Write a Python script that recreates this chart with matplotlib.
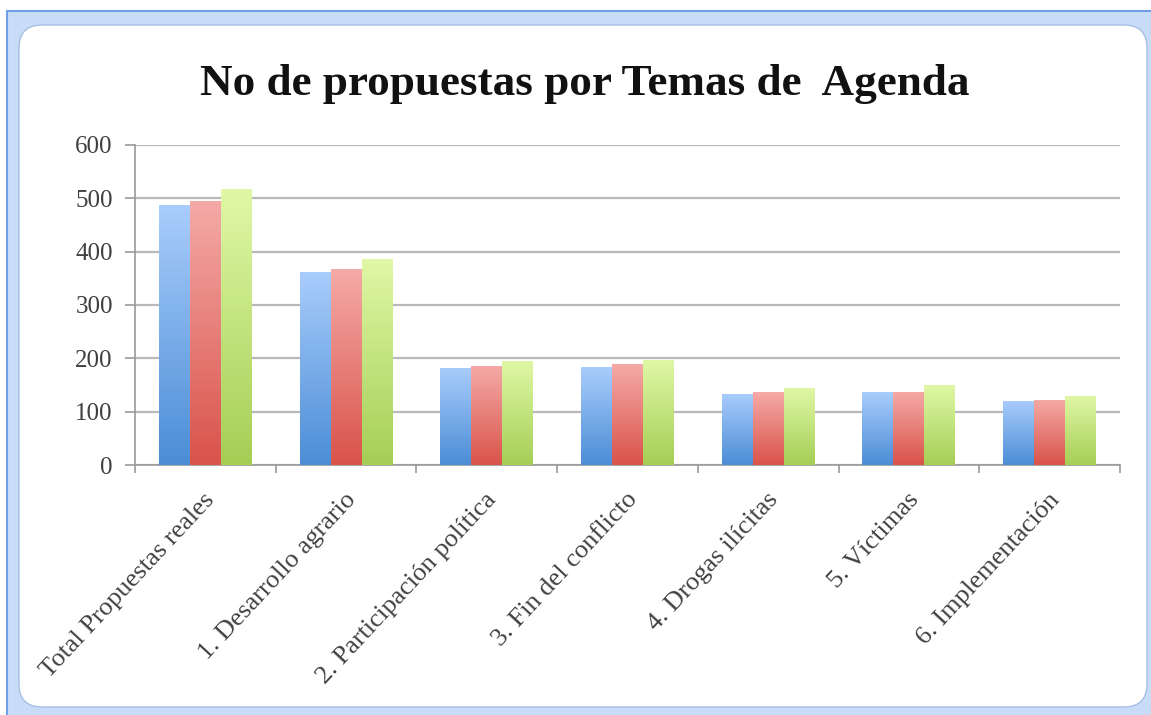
import numpy as np
import matplotlib
matplotlib.use("Agg")
import matplotlib.pyplot as plt
import matplotlib.transforms as mtransforms
from matplotlib.colors import LinearSegmentedColormap
from matplotlib.patches import FancyBboxPatch

categories = ["Total Propuestas reales", "1. Desarrollo agrario", "2. Participación política",
              "3. Fin del conflicto", "4. Drogas ilícitas", "5. Víctimas", "6. Implementación"]
serie_azul = [487, 362, 182, 183, 134, 136, 120]
serie_roja = [495, 367, 186, 189, 136, 137, 122]
serie_verde = [517, 386, 195, 197, 145, 150, 130]
yticks = [0, 100, 200, 300, 400, 500, 600]

# top colour, bottom colour for each series
gradients = [("#a9cdfc", "#4b8dd6"), ("#f5aaa7", "#d9534a"), ("#e0f8a6", "#a5ce55")]

plt.rcParams["font.family"] = ["Liberation Serif", "DejaVu Serif"]

fig = plt.figure(figsize=(11.51, 7.15), dpi=100)
W, H = 1151, 715

# word-style selected chart frame
outer = FancyBboxPatch((7 / W, -20 / H), 1.2, (715 - 11 + 20) / H, boxstyle="square,pad=0",
                       transform=fig.transFigure, facecolor="#c9dcf7", edgecolor="#6f9fe6",
                       linewidth=1.5, zorder=-2)
fig.patches.append(outer)
inner = FancyBboxPatch((19 / W, 8 / H), (1147 - 19) / W, (690 - 8) / H,
                       boxstyle="round,pad=0,rounding_size=0.02",
                       transform=fig.transFigure, facecolor="white", edgecolor="#a7bfe4",
                       linewidth=1.0, zorder=-1, mutation_aspect=W / H)
fig.patches.append(inner)

ax = fig.add_axes([135 / W, 1 - 465 / H, (1120 - 135) / W, (465 - 145) / H])
ax.set_facecolor("none")
ax.set_zorder(1)

x = np.arange(len(categories))
w = 0.22
for i, (vals, (ctop, cbot)) in enumerate(zip([serie_azul, serie_roja, serie_verde], gradients)):
    bars = ax.bar(x + (i - 1) * w, vals, w, color=cbot, linewidth=0, zorder=2)
    cmap = LinearSegmentedColormap.from_list("g%d" % i, [cbot, ctop])
    grad = np.linspace(0, 1, 256).reshape(-1, 1)
    for b in bars:
        x0, y0 = b.get_x(), b.get_y()
        im = ax.imshow(grad, extent=[x0, x0 + b.get_width(), y0, y0 + b.get_height()],
                       origin="lower", aspect="auto", cmap=cmap, zorder=3)
        im.set_clip_path(b)

ax.set_xlim(-0.5, len(categories) - 0.5)
ax.set_ylim(0, 600)
ax.set_yticks(yticks)
ax.yaxis.grid(True, color="#b8b8b8", linewidth=1.6, zorder=1)
ax.set_axisbelow(True)

ax.set_xticks(np.arange(len(categories) + 1) - 0.5)
ax.set_xticklabels([])
ax.set_xticks(x, minor=True)
ax.set_xticklabels(categories, minor=True, rotation=47, ha="right", va="top",
                   rotation_mode="anchor", fontsize=19, color="#404040")
ax.tick_params(axis="x", which="minor", length=0, pad=17)
ax.tick_params(axis="x", which="major", length=6, color="#999999", width=1.2)
ax.tick_params(axis="y", length=7, color="#999999", width=1.2, labelsize=18,
               labelcolor="#404040", pad=9)
shift = mtransforms.ScaledTranslation(-2 / 100, 0, fig.dpi_scale_trans)
for lab in ax.get_xticklabels(minor=True):
    lab.set_transform(lab.get_transform() + shift)

for s in ["top", "right"]:
    ax.spines[s].set_visible(False)
for s in ["left", "bottom"]:
    ax.spines[s].set_color("#999999")
    ax.spines[s].set_linewidth(1.2)

fig.text(585 / W, 1 - 84 / H, "No de propuestas por Temas de  Agenda", ha="center", va="center",
         fontsize=32.5, fontweight="bold", color="#111111")

fig.savefig("out.png", dpi=100)
